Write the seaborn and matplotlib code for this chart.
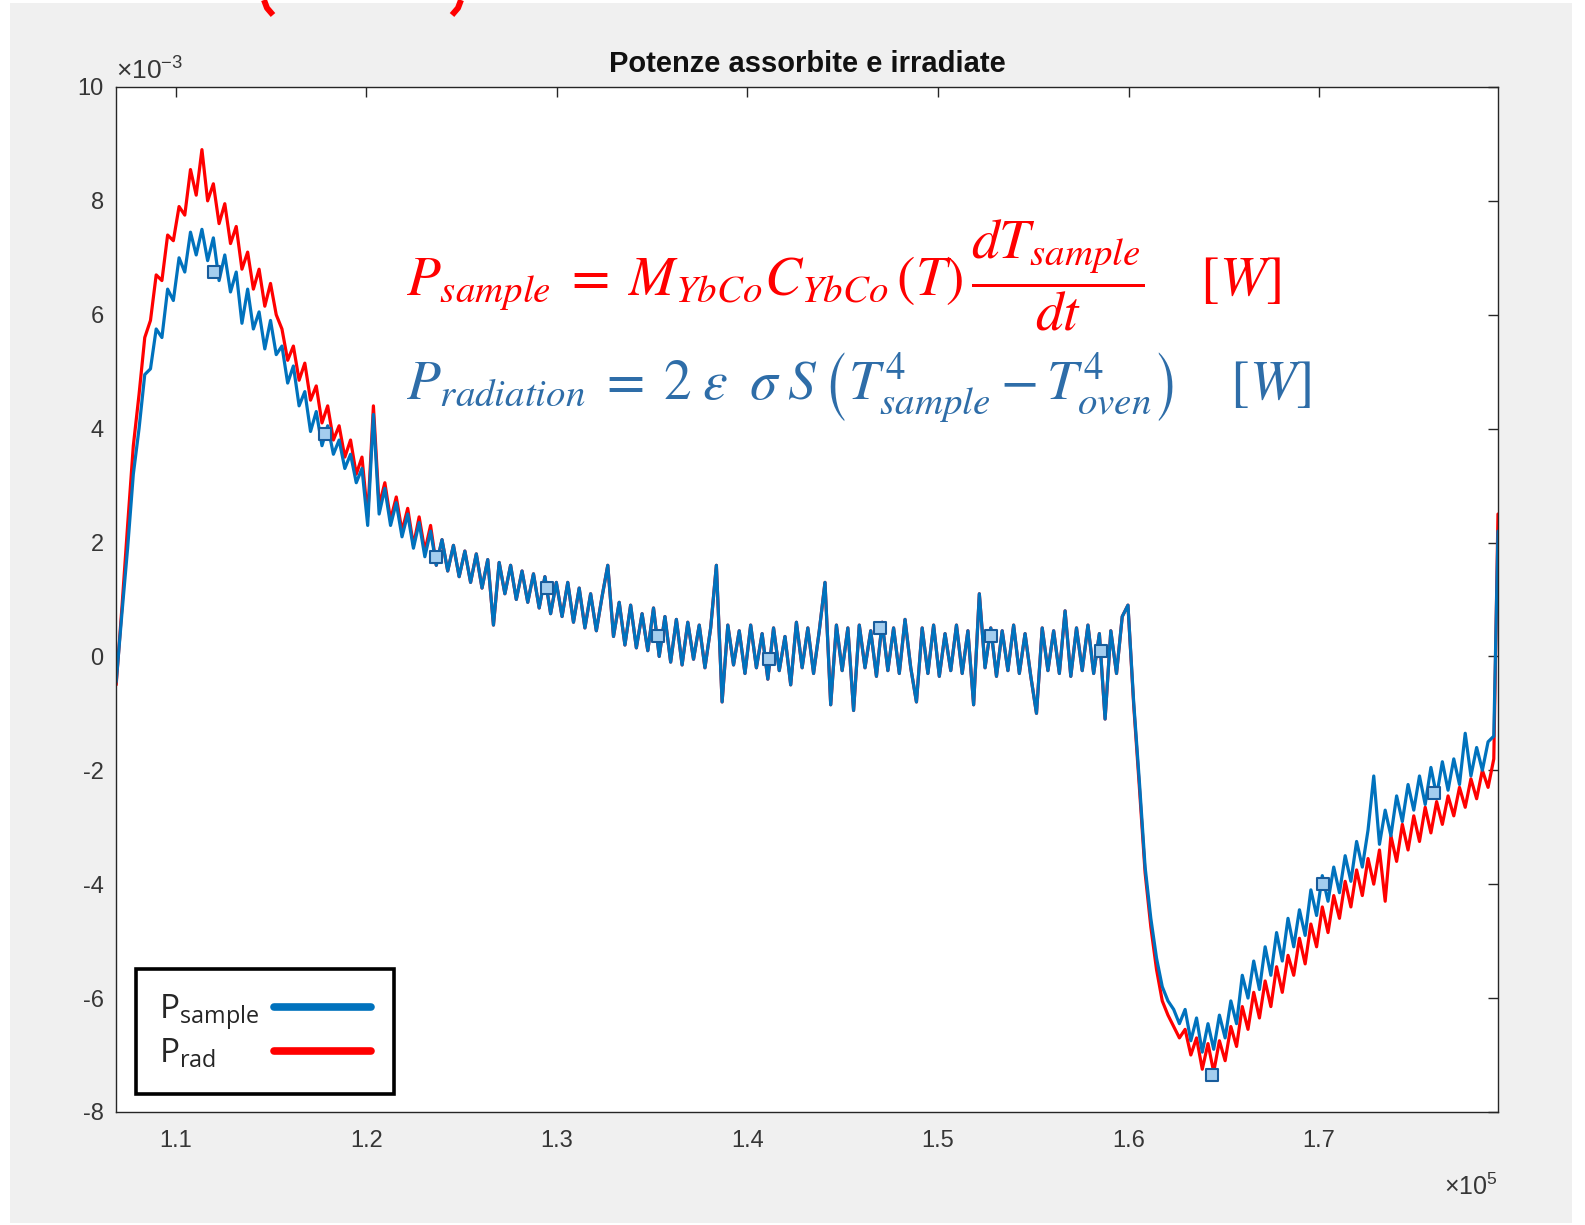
import numpy as np
import pandas as pd
import seaborn as sns
import matplotlib.pyplot as plt
from matplotlib.patches import Rectangle
from matplotlib.lines import Line2D

# time axis [s]: one reading every 300 s, plus the last reading at the right edge
t_start = 106870
t_step = 300
t_end = 179390

# P_sample [1e-3 W]
p_sample = [
    -0.45, 0.75, 1.9, 3.2, 4.0, 4.95, 5.05, 5.75, 5.6, 6.45,
    6.25, 7.0, 6.75, 7.45, 7.05, 7.5, 6.95, 7.35, 6.6, 7.05,
    6.4, 6.75, 5.85, 6.45, 5.75, 6.05, 5.4, 5.9, 5.3, 5.45,
    4.8, 5.1, 4.4, 4.65, 3.95, 4.3, 3.7, 4.05, 3.55, 3.8,
    3.3, 3.55, 3.05, 3.3, 2.3, 4.25, 2.5, 2.95, 2.3, 2.7,
    2.1, 2.5, 1.9, 2.35, 1.75, 2.2, 1.6, 2.05, 1.5, 1.95,
    1.4, 1.85, 1.3, 1.8, 1.2, 1.7, 0.55, 1.65, 1.1, 1.6,
    1.0, 1.5, 0.95, 1.45, 0.85, 1.4, 0.75, 1.3, 0.7, 1.3,
    0.6, 1.2, 0.5, 1.1, 0.45, 1.05, 1.6, 0.35, 0.95, 0.2,
    0.9, 0.15, 0.75, 0.1, 0.85, 0.0, 0.7, -0.1, 0.65, -0.15,
    0.6, -0.05, 0.55, -0.2, 0.5, 1.6, -0.8, 0.55, -0.15, 0.45,
    -0.3, 0.55, -0.2, 0.4, -0.4, 0.5, -0.25, 0.35, -0.5, 0.6,
    -0.2, 0.5, -0.3, 0.45, 1.3, -0.85, 0.55, -0.25, 0.5, -0.95,
    0.55, -0.2, 0.45, -0.35, 0.6, -0.25, 0.5, -0.3, 0.65, -0.2,
    -0.8, 0.5, -0.3, 0.55, -0.35, 0.4, -0.25, 0.55, -0.3, 0.45,
    -0.85, 1.1, -0.2, 0.5, -0.35, 0.45, -0.25, 0.55, -0.3, 0.4,
    -0.35, -1.0, 0.5, -0.25, 0.45, -0.3, 0.8, -0.35, 0.5, -0.25,
    0.55, -0.3, 0.4, -1.1, 0.45, -0.3, 0.7, 0.9,
    -0.8, -2.2, -3.7, -4.6, -5.3, -5.8, -6.05, -6.2, -6.45, -6.2,
    -6.75, -6.35, -6.95, -6.45, -6.9, -6.3, -6.7, -6.05, -6.45, -5.6,
    -6.0, -5.35, -5.85, -5.1, -5.6, -4.85, -5.35, -4.6, -5.1, -4.45,
    -4.9, -4.1, -4.55, -3.85, -4.3, -3.7, -4.15, -3.5, -3.95, -3.25,
    -3.7, -3.05, -2.1, -3.3, -2.7, -3.15, -2.45, -2.9, -2.25, -2.7,
    -2.1, -2.6, -1.95, -2.45, -1.85, -2.35, -1.8, -2.25, -1.35, -2.1,
    -1.6, -2.0, -1.5, -1.4, 2.2,
]

# P_rad [1e-3 W]: differs from P_sample at the start and after the dip,
# in between the two traces lie on top of each other
p_rad_head = [
    -0.5, 0.85, 2.3, 3.7, 4.6, 5.6, 5.9, 6.7, 6.6, 7.4,
    7.3, 7.9, 7.75, 8.55, 8.1, 8.9, 8.0, 8.3, 7.6, 7.95,
    7.25, 7.55, 6.8, 7.1, 6.45, 6.8, 6.15, 6.55, 6.0, 5.75,
    5.2, 5.45, 4.85, 5.15, 4.5, 4.75, 4.1, 4.4, 3.8, 4.05,
    3.5, 3.8, 3.2, 3.5, 2.45, 4.4, 2.65, 3.05, 2.4, 2.8,
    2.2, 2.6, 1.95, 2.45, 1.85, 2.3,
]
p_rad_tail = [
    -0.85, -2.3, -3.8, -4.75, -5.5, -6.05, -6.3, -6.5, -6.7, -6.55,
    -7.0, -6.7, -7.25, -6.8, -7.3, -6.75, -7.1, -6.5, -6.85, -6.15,
    -6.55, -5.9, -6.35, -5.7, -6.15, -5.45, -5.9, -5.25, -5.6, -4.95,
    -5.4, -4.7, -5.1, -4.4, -4.85, -4.2, -4.6, -3.95, -4.4, -3.75,
    -4.2, -3.55, -4.0, -3.4, -4.3, -3.15, -3.6, -2.95, -3.4, -2.8,
    -3.25, -2.65, -3.1, -2.55, -2.95, -2.45, -2.8, -2.3, -2.65, -2.15,
    -2.5, -2.0, -2.3, -1.8, 2.5,
]

# square markers on the P_sample trace
marker_t = [112020, 117840, 123660, 129480, 135300, 141120,
            146940, 152760, 158580, 164400, 170220, 176040]
marker_p = [6.75, 3.9, 1.75, 1.2, 0.35, -0.05, 0.5, 0.35, 0.1, -7.35, -4.0, -2.4]

x_ticks = [110000, 120000, 130000, 140000, 150000, 160000, 170000]
x_tick_labels = ['1.1', '1.2', '1.3', '1.4', '1.5', '1.6', '1.7']
y_ticks = [-8, -6, -4, -2, 0, 2, 4, 6, 8, 10]
y_tick_labels = ['-8', '-6', '-4', '-2', '0', '2', '4', '6', '8', '10']

n_head = len(p_rad_head)
n_tail = len(p_rad_tail)
t = np.append(np.arange(len(p_sample) - 1) * t_step + t_start, t_end)
p_rad = p_rad_head + p_sample[n_head:len(p_sample) - n_tail] + p_rad_tail

df = pd.DataFrame({'t': t, 'sample': p_sample, 'rad': p_rad})

sns.set_theme(style='white')
plt.rcParams['font.family'] = ['Liberation Sans', 'DejaVu Sans']
plt.rcParams['axes.unicode_minus'] = False

fig = plt.figure(figsize=(15.85, 12.25), dpi=100, facecolor='white')
fig.add_artist(Rectangle((0.0063, 0.0016), 0.9855, 0.996, transform=fig.transFigure,
                         facecolor='#f0f0f0', edgecolor='none', zorder=-10))
ax = fig.add_axes([0.0733, 0.0923, 0.8718, 0.8367])
ax.set_facecolor('white')

sns.lineplot(data=df, x='t', y='rad', color='#ff0000', lw=2.3, sort=False,
             estimator=None, ax=ax)
sns.lineplot(data=df, x='t', y='sample', color='#0072bd', lw=2.3, sort=False,
             estimator=None, ax=ax)
sns.scatterplot(x=marker_t, y=marker_p, marker='s', s=85, color='#a4cdee',
                edgecolor='#185c9c', linewidth=1.5, zorder=5, ax=ax)
red_line, blue_line = ax.get_lines()[:2]

ax.set_xlim(t_start, t_end)
ax.set_ylim(-8, 10)
ax.set_xticks(x_ticks, x_tick_labels)
ax.set_yticks(y_ticks, y_tick_labels)
ax.set_xlabel('')
ax.set_ylabel('')
ax.tick_params(direction='in', length=7, width=1, top=True, right=True,
               labelsize=17, labelcolor='#363636', color='#262626')
ax.tick_params(axis='x', pad=13)
ax.tick_params(axis='y', pad=9)
for s in ax.spines.values():
    s.set_visible(True)
    s.set_color('#262626')
    s.set_linewidth(1.0)

ax.set_title('Potenze assorbite e irradiate', fontsize=21, fontweight='bold',
             pad=11, color='#111111')
ax.text(0.0, 1.0075, r'$\mathregular{\times10^{-3}}$', transform=ax.transAxes,
        fontsize=19, color='#363636', ha='left', va='baseline')
ax.text(1.0, -0.081, r'$\mathregular{\times10^{5}}$', transform=ax.transAxes,
        fontsize=18, color='#363636', ha='right', va='baseline')

leg = ax.legend([blue_line, red_line],
                [r'$\mathregular{P_{sample}}$', r'$\mathregular{P_{rad}}$'],
                loc='lower left', bbox_to_anchor=(0.0143, 0.0175), borderaxespad=0,
                markerfirst=False, frameon=True, fancybox=False, framealpha=1,
                edgecolor='black', prop={'family': 'Open Sans', 'size': 24},
                handlelength=2.9, handletextpad=0.45, borderpad=0.7, labelspacing=0.15)
leg.get_frame().set_linewidth(2.6)
for h in leg.get_lines():
    h.set_linewidth(5.5)

# labels left-aligned, lines right-aligned: give every legend row the same width
fig.canvas.draw()
renderer = fig.canvas.get_renderer()
rows = [row for col in leg._legend_handle_box.get_children() for row in col.get_children()]
row_w = max(row.get_bbox(renderer).width for row in rows)
for row in rows:
    row.mode = 'expand'
    row.width = row_w

eq_red = (r'$P_{sample}\;=\;M_{YbCo}C_{YbCo}\,(T)\,\dfrac{dT_{sample}}{dt}'
          r'\quad\;[W]$')
eq_blue = (r'$P_{radiation}\;=\;2\;\varepsilon\;\;\sigma\;S\,'
           r'\left(T_{sample}^{4} - T_{oven}^{4}\right)\quad\;[W]$')
fig.text(0.256, 0.759, eq_red, color='#ff0000', fontsize=40,
         math_fontfamily='stix', va='baseline')
fig.text(0.256, 0.674, eq_blue, color='#2e6da8', fontsize=40,
         math_fontfamily='stix', va='baseline')

# bottoms of a red heading that is cut off by the top edge of the picture
for xs in ([264, 267, 273], [461, 458, 452]):
    fig.add_artist(Line2D([x / 1585 for x in xs], [1.0, 1 - 8 / 1225, 1 - 15 / 1225],
                          transform=fig.transFigure, color='#ff0000', lw=4.3,
                          solid_capstyle='butt'))

fig.savefig('out.png', dpi=100)
